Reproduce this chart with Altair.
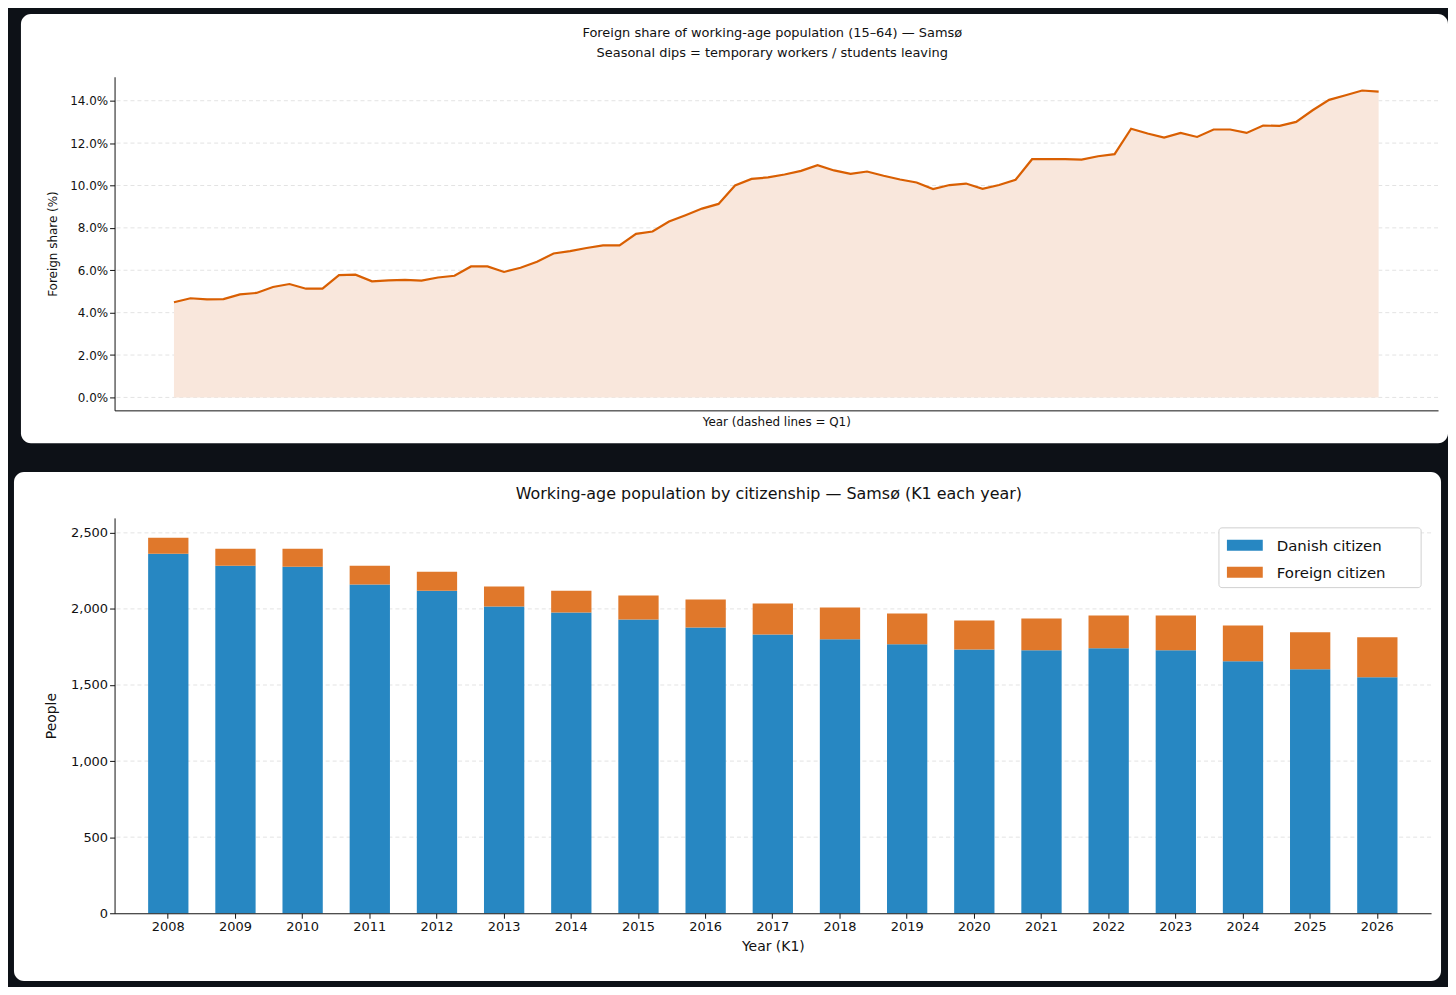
import altair as alt
import pandas as pd

# quarterly foreign share of working-age population (%), Samsø
share = [4.49, 4.68, 4.63, 4.64, 4.86, 4.93, 5.21, 5.35, 5.13, 5.13,
         5.77, 5.79, 5.48, 5.52, 5.55, 5.51, 5.66, 5.74, 6.18, 6.18,
         5.92, 6.12, 6.40, 6.79, 6.90, 7.05, 7.17, 7.17, 7.72, 7.83,
         8.30, 8.60, 8.91, 9.13, 10.00, 10.31, 10.38, 10.52, 10.69, 10.96,
         10.71, 10.55, 10.66, 10.46, 10.28, 10.14, 9.83, 10.02, 10.09, 9.84,
         10.02, 10.27, 11.24, 11.24, 11.24, 11.22, 11.38, 11.48, 12.68, 12.45,
         12.26, 12.48, 12.29, 12.64, 12.64, 12.48, 12.83, 12.81, 13.00, 13.55,
         14.04, 14.26, 14.48, 14.43]

years = [str(y) for y in range(2008, 2027)]
danish = [2363, 2284, 2277, 2160, 2120, 2016, 1976, 1931, 1878, 1832,
          1800, 1767, 1734, 1728, 1741, 1728, 1656, 1603, 1551]
total = [2467, 2395, 2395, 2284, 2245, 2147, 2120, 2088, 2062, 2035,
         2009, 1970, 1924, 1937, 1957, 1957, 1891, 1846, 1813]
foreign = [t - d for t, d in zip(total, danish)]
groups = ['Danish citizen', 'Foreign citizen']
colors = ['#2787c2', '#e0782b']

FONT = "DejaVu Sans"
BG = "#0d1117"
one = pd.DataFrame({'k': [0]})

# ---------- top panel ----------
W1, H1 = 1329, 335
share_df = pd.DataFrame({'q': range(len(share)), 'share': share})
xs = alt.X('q:Q', scale=alt.Scale(domain=[-3.6, len(share) - 1 + 3.6], nice=False),
           axis=alt.Axis(labels=False, ticks=False, grid=False, zindex=1,
                         title='Year (dashed lines = Q1)', titleFontWeight='normal',
                         titleFontSize=12, titlePadding=6))
ys = alt.Y('share:Q', scale=alt.Scale(domain=[-0.61, 15.13], nice=False, zero=False),
           axis=alt.Axis(values=[0, 2, 4, 6, 8, 10, 12, 14], grid=False, zindex=1,
                         labelExpr="format(datum.value, '.1f') + '%'",
                         title='Foreign share (%)', titleFontWeight='normal',
                         titleFontSize=12, labelFontSize=12, titlePadding=10))

panel1 = alt.Chart(one).mark_rect(fill='white', cornerRadius=10).encode(
    x=alt.value(-94), x2=alt.value(W1 + 10), y=alt.value(-63), y2=alt.value(H1 + 33))
grid1 = alt.Chart(pd.DataFrame({'v': [0, 2, 4, 6, 8, 10, 12, 14]})).mark_rule(
    color='#e3e3e3', strokeDash=[4, 3]).encode(y=alt.Y('v:Q'))
area = alt.Chart(share_df).mark_area(color='#f9e7dc').encode(
    x=xs, y=ys, y2=alt.datum(0))
line = alt.Chart(share_df).mark_line(color='#d95f02', strokeWidth=2.2).encode(x=xs, y=ys)
title1 = alt.Chart(one).mark_text(font=FONT, fontSize=13, color='#111',
                                  lineBreak='\n', lineHeight=20).encode(
    x=alt.value(W1 / 2 - 4), y=alt.value(-44),
    text=alt.value('Foreign share of working-age population (15–64) — Samsø\n'
                   'Seasonal dips = temporary workers / students leaving'))

top = alt.layer(panel1, grid1, area, line, title1).properties(width=W1, height=H1)

# ---------- bottom panel ----------
W2, H2 = 1322, 397
rows = []
for y, d, f in zip(years, danish, foreign):
    rows.append({'year': y, 'group': groups[0], 'people': d, 'order': 0})
    rows.append({'year': y, 'group': groups[1], 'people': f, 'order': 1})
bars_df = pd.DataFrame(rows)

panel2 = alt.Chart(one).mark_rect(fill='white', cornerRadius=10).encode(
    x=alt.value(-101), x2=alt.value(W2 + 10), y=alt.value(-46), y2=alt.value(H2 + 68))
grid2 = alt.Chart(pd.DataFrame({'v': [500, 1000, 1500, 2000, 2500]})).mark_rule(
    color='#e3e3e3', strokeDash=[4, 3]).encode(y=alt.Y('v:Q'))
bars = alt.Chart(bars_df).mark_bar().encode(
    x=alt.X('year:N', scale=alt.Scale(paddingInner=0.4, paddingOuter=0.5),
            axis=alt.Axis(labelAngle=0, labelFontSize=13, title='Year (K1)',
                          titleFontSize=14, titleFontWeight='normal', zindex=1,
                          grid=False, titlePadding=6)),
    y=alt.Y('people:Q', stack='zero', scale=alt.Scale(domain=[0, 2598], nice=False),
            axis=alt.Axis(values=[0, 500, 1000, 1500, 2000, 2500], format=',.0f',
                          labelFontSize=13, title='People', titleFontSize=14,
                          titleFontWeight='normal', zindex=1, grid=False, titlePadding=12)),
    color=alt.Color('group:N', scale=alt.Scale(domain=groups, range=colors), legend=None),
    order=alt.Order('order:Q'),
)
title2 = alt.Chart(one).mark_text(font=FONT, fontSize=16, color='#111').encode(
    x=alt.value(W2 / 2 - 4), y=alt.value(-24),
    text=alt.value('Working-age population by citizenship — Samsø (K1 each year)'))

# legend box drawn inside the panel (top-right)
leg_df = pd.DataFrame({'group': groups, 'color': colors, 'row': [0, 1]})
LX, LY = W2 - 213, 10
leg_box = alt.Chart(one).mark_rect(fill='white', stroke='#d0d0d0', cornerRadius=3).encode(
    x=alt.value(LX), x2=alt.value(W2 - 10), y=alt.value(LY), y2=alt.value(LY + 60))
leg_sw = alt.Chart(leg_df).mark_rect().encode(
    x=alt.value(LX + 8), x2=alt.value(LX + 44),
    y=alt.Y('row:O', scale=alt.Scale(range=[LY + 18, LY + 45]), axis=None),
    y2=alt.Y2(field='y2') if False else alt.value(0),
    color=alt.Color('color:N', scale=None),
).transform_calculate(y2='0')
leg_sw = alt.Chart(leg_df).mark_square(size=1, opacity=0).encode(
    x=alt.value(0), y=alt.value(0))
leg_swatch = [
    alt.Chart(one).mark_rect(color=c).encode(
        x=alt.value(LX + 8), x2=alt.value(LX + 44),
        y=alt.value(LY + 12 + 27 * i), y2=alt.value(LY + 23 + 27 * i))
    for i, c in enumerate(colors)
]
leg_text = [
    alt.Chart(one).mark_text(font=FONT, fontSize=15, color='#111', align='left').encode(
        x=alt.value(LX + 58), y=alt.value(LY + 18 + 27 * i), text=alt.value(g))
    for i, g in enumerate(groups)
]

bottom = alt.layer(panel2, grid2, bars, title2, leg_box, *leg_swatch, *leg_text
                   ).properties(width=W2, height=H2)

chart = alt.vconcat(top, bottom, spacing=29).properties(
    background=BG, padding={'left': 6, 'top': 4, 'right': 0, 'bottom': 4}
).configure_view(stroke=None).configure_axis(
    labelFont=FONT, titleFont=FONT, labelColor='#111', titleColor='#111',
    domainColor='#111', tickColor='#111'
)

chart.save("out.html", embed_options={"renderer": "svg", "actions": False})
